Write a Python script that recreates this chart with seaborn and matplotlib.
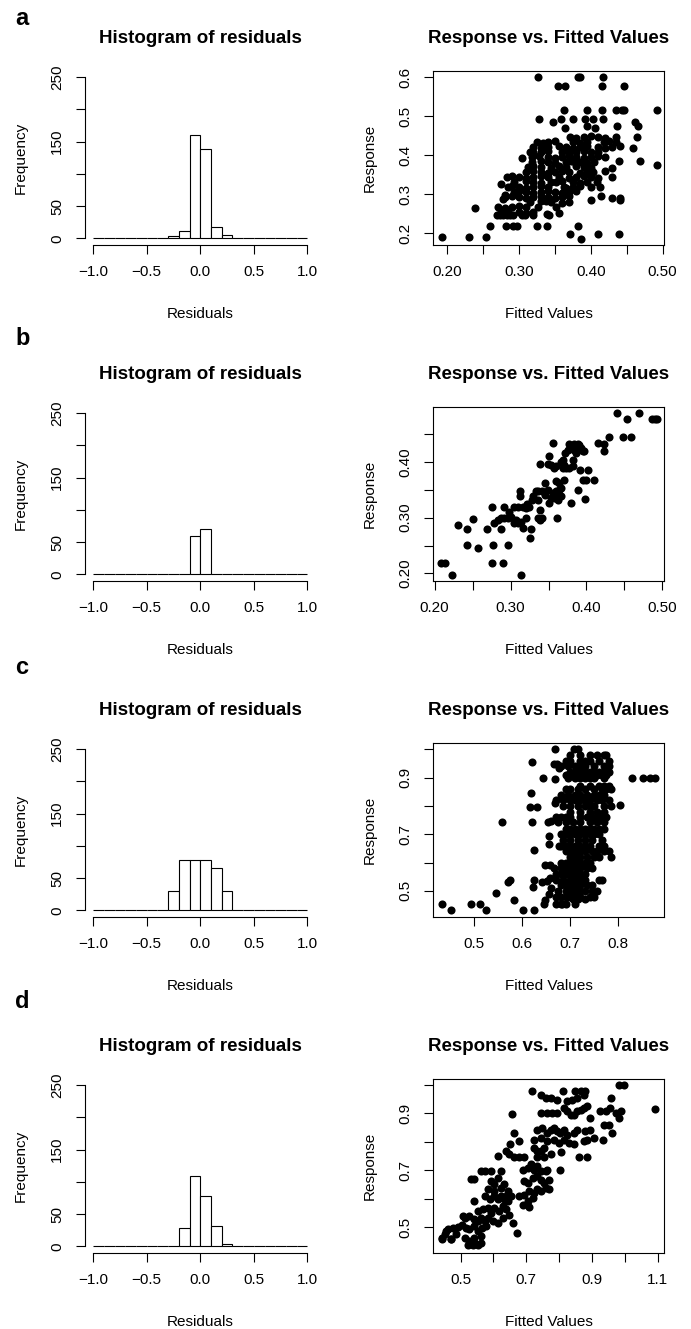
import numpy as np
import matplotlib
matplotlib.use("Agg")
import matplotlib.pyplot as plt
import seaborn as sns

sns.set_style("white")
plt.rcParams['font.family'] = ['Liberation Sans', 'DejaVu Sans']
plt.rcParams['text.color'] = 'black'
plt.rcParams['axes.labelcolor'] = 'black'

# ---------------- data ----------------
panel_letters = ['a', 'b', 'c', 'd']

hist_edges = [-1.0, -0.9, -0.8, -0.7, -0.6, -0.5, -0.4, -0.3, -0.2, -0.1, 0.0,
              0.1, 0.2, 0.3, 0.4, 0.5, 0.6, 0.7, 0.8, 0.9, 1.0]
hist_centers = [-0.95, -0.85, -0.75, -0.65, -0.55, -0.45, -0.35, -0.25, -0.15, -0.05,
                0.05, 0.15, 0.25, 0.35, 0.45, 0.55, 0.65, 0.75, 0.85, 0.95]
counts_a = [0, 0, 0, 0, 0, 0, 0, 3, 12, 160, 138, 17, 5, 0, 0, 0, 0, 0, 0, 0]
counts_b = [0, 0, 0, 0, 0, 0, 0, 0, 1, 60, 71, 0, 0, 0, 0, 0, 0, 0, 0, 0]
counts_c = [0, 0, 0, 0, 0, 0, 0, 30, 78, 78, 78, 66, 30, 1, 0, 0, 0, 0, 0, 0]
counts_d = [0, 0, 0, 0, 0, 0, 0, 0, 29, 109, 78, 31, 3, 0, 0, 0, 0, 0, 0, 0]

# (fitted, response) points
pts_a = np.array([
    (0.1925, 0.191), (0.2303, 0.191), (0.2545, 0.191), (0.2382, 0.2635), (0.2601, 0.219),
    (0.2811, 0.219), (0.2918, 0.219), (0.2974, 0.219), (0.3244, 0.219), (0.3384, 0.219),
    (0.3267, 0.600), (0.3281, 0.494), (0.3817, 0.600), (0.3850, 0.600), (0.4167, 0.600),
    (0.3547, 0.578), (0.3640, 0.578), (0.4153, 0.578), (0.4460, 0.578),
    (0.3622, 0.516), (0.3943, 0.516), (0.4153, 0.516), (0.4353, 0.516), (0.4437, 0.516),
    (0.4465, 0.516), (0.4922, 0.516),
    (0.3584, 0.494), (0.3468, 0.485), (0.3757, 0.494), (0.3920, 0.494), (0.4036, 0.494),
    (0.4176, 0.494), (0.3640, 0.469), (0.3943, 0.476), (0.4060, 0.469), (0.4362, 0.476),
    (0.4619, 0.485), (0.4651, 0.476), (0.4642, 0.447), (0.4586, 0.418), (0.4689, 0.385),
    (0.4922, 0.374), (0.4395, 0.385), (0.3034, 0.393), (0.2741, 0.327), (0.2778, 0.288),
    (0.2801, 0.297),
    (0.2699, 0.247), (0.2736, 0.247), (0.2778, 0.247), (0.2825, 0.247), (0.2872, 0.247),
    (0.2918, 0.247), (0.3034, 0.247), (0.3081, 0.247), (0.3197, 0.247), (0.3384, 0.250),
    (0.3421, 0.246), (0.3561, 0.251),
    (0.3710, 0.198), (0.3822, 0.219), (0.3864, 0.185), (0.4097, 0.198), (0.4386, 0.198),
    (0.3999, 0.284), (0.4130, 0.318), (0.4144, 0.294), (0.4293, 0.291), (0.4400, 0.291),
    (0.4400, 0.286), (0.4293, 0.344), (0.4293, 0.366),
    (0.371, 0.447), (0.380, 0.445), (0.390, 0.447), (0.400, 0.449), (0.410, 0.447), (0.420, 0.445), (0.435, 0.447),
    (0.325, 0.434), (0.333, 0.432), (0.340, 0.434), (0.350, 0.436), (0.375, 0.434), (0.385, 0.432),
    (0.395, 0.434), (0.418, 0.434), (0.425, 0.436), (0.435, 0.434),
    (0.320, 0.421), (0.330, 0.419), (0.340, 0.421), (0.355, 0.423), (0.365, 0.421), (0.375, 0.419),
    (0.385, 0.421), (0.395, 0.423), (0.410, 0.421), (0.420, 0.419), (0.430, 0.421), (0.440, 0.423),
    (0.315, 0.409), (0.320, 0.407), (0.330, 0.409), (0.340, 0.411), (0.360, 0.409), (0.370, 0.407),
    (0.380, 0.409), (0.390, 0.411), (0.400, 0.409), (0.410, 0.407),
    (0.318, 0.396), (0.328, 0.398), (0.340, 0.396), (0.350, 0.394), (0.360, 0.396), (0.370, 0.398),
    (0.380, 0.396), (0.390, 0.394), (0.400, 0.396), (0.410, 0.398), (0.420, 0.396),
    (0.318, 0.383), (0.330, 0.385), (0.340, 0.383), (0.350, 0.381), (0.365, 0.383), (0.375, 0.385),
    (0.385, 0.383), (0.395, 0.381), (0.405, 0.383),
    (0.313, 0.370), (0.320, 0.372), (0.330, 0.370), (0.345, 0.368), (0.365, 0.370), (0.380, 0.372),
    (0.390, 0.370), (0.400, 0.368),
    (0.310, 0.357), (0.320, 0.359), (0.330, 0.357), (0.340, 0.355), (0.350, 0.357), (0.360, 0.359),
    (0.370, 0.357), (0.385, 0.355), (0.395, 0.357), (0.420, 0.359),
    (0.283, 0.344), (0.290, 0.346), (0.300, 0.344), (0.310, 0.342), (0.320, 0.344), (0.330, 0.346),
    (0.340, 0.344), (0.370, 0.342), (0.380, 0.344), (0.390, 0.346), (0.400, 0.344), (0.410, 0.342),
    (0.293, 0.331), (0.310, 0.333), (0.320, 0.331), (0.330, 0.329), (0.345, 0.331), (0.360, 0.333),
    (0.375, 0.331), (0.385, 0.329), (0.395, 0.331),
    (0.285, 0.318), (0.290, 0.320), (0.300, 0.318), (0.310, 0.316), (0.320, 0.318), (0.330, 0.320),
    (0.340, 0.318), (0.365, 0.316), (0.375, 0.318), (0.385, 0.320), (0.400, 0.318),
    (0.293, 0.305), (0.300, 0.307), (0.310, 0.305), (0.320, 0.303), (0.330, 0.305), (0.340, 0.307),
    (0.350, 0.305), (0.360, 0.303), (0.370, 0.305), (0.380, 0.307),
    (0.280, 0.292), (0.290, 0.294), (0.300, 0.292), (0.310, 0.290), (0.320, 0.292), (0.330, 0.294),
    (0.340, 0.292), (0.350, 0.290), (0.360, 0.292), (0.370, 0.294),
    (0.315, 0.280), (0.330, 0.282), (0.345, 0.280), (0.360, 0.278), (0.370, 0.280),
    (0.270, 0.267), (0.280, 0.265), (0.290, 0.267), (0.300, 0.269), (0.310, 0.267),
    (0.275, 0.254), (0.285, 0.256), (0.300, 0.254), (0.310, 0.252), (0.320, 0.254),
    (0.355, 0.345), (0.362, 0.318), (0.352, 0.330), (0.356, 0.371), (0.372, 0.384),
    (0.403, 0.357), (0.408, 0.332), (0.338, 0.282), (0.352, 0.268), (0.326, 0.266),
])

pts_b = np.array([
    (0.2088, 0.218), (0.2140, 0.218), (0.2230, 0.198), (0.2315, 0.287), (0.2425, 0.280),
    (0.2500, 0.297), (0.2425, 0.251), (0.2570, 0.246), (0.2687, 0.280), (0.2753, 0.320),
    (0.2766, 0.251), (0.2753, 0.218), (0.2906, 0.218), (0.2970, 0.251), (0.3138, 0.198),
    (0.3257, 0.263), (0.2788, 0.290), (0.2830, 0.296), (0.2876, 0.299), (0.2920, 0.299),
    (0.2963, 0.299), (0.3007, 0.302), (0.3073, 0.296), (0.3138, 0.293), (0.3204, 0.299),
    (0.2876, 0.280), (0.2910, 0.320), (0.2985, 0.311), (0.3050, 0.320), (0.3095, 0.320),
    (0.3160, 0.320), (0.3204, 0.317), (0.3248, 0.320), (0.3050, 0.290), (0.3095, 0.290),
    (0.3160, 0.281), (0.3270, 0.279), (0.3125, 0.338), (0.3130, 0.347), (0.3290, 0.338),
    (0.3280, 0.332), (0.3357, 0.299), (0.3390, 0.296), (0.3420, 0.299), (0.3390, 0.313),
    (0.3357, 0.347), (0.3420, 0.347), (0.3490, 0.350), (0.3554, 0.344), (0.3600, 0.347),
    (0.3640, 0.350), (0.3664, 0.338), (0.3510, 0.326), (0.3576, 0.335), (0.3620, 0.332),
    (0.3611, 0.300), (0.3388, 0.396), (0.3490, 0.396), (0.3532, 0.395), (0.3576, 0.389),
    (0.3502, 0.410), (0.3563, 0.434), (0.3598, 0.365), (0.3642, 0.362), (0.3664, 0.353),
    (0.3708, 0.368), (0.3664, 0.400), (0.3686, 0.404), (0.3708, 0.395), (0.3730, 0.389),
    (0.3773, 0.389), (0.3817, 0.392), (0.3716, 0.416), (0.3751, 0.422), (0.3795, 0.425),
    (0.3839, 0.422), (0.3860, 0.416), (0.3883, 0.422), (0.3905, 0.431), (0.3926, 0.425),
    (0.3948, 0.419), (0.3970, 0.419), (0.3773, 0.432), (0.3839, 0.432), (0.3891, 0.432),
    (0.3795, 0.326), (0.3883, 0.350), (0.3918, 0.386), (0.4014, 0.386), (0.3948, 0.368),
    (0.3992, 0.368), (0.4102, 0.368), (0.3979, 0.333), (0.4145, 0.434), (0.4233, 0.432),
    (0.4233, 0.419), (0.4290, 0.444), (0.4400, 0.487), (0.4531, 0.477), (0.4478, 0.444),
    (0.4592, 0.444), (0.4693, 0.487), (0.4868, 0.477), (0.4903, 0.477), (0.4933, 0.477),
    (0.3530, 0.335), (0.3640, 0.338), (0.3220, 0.325), (0.3357, 0.331), (0.3450, 0.340),
    (0.3330, 0.347), (0.3690, 0.389), (0.3600, 0.392), (0.3820, 0.404), (0.3460, 0.362),
])

pts_c = np.array([
    (0.432, 0.453), (0.452, 0.432), (0.493, 0.453), (0.512, 0.453), (0.524, 0.432),
    (0.545, 0.491), (0.571, 0.533), (0.575, 0.540), (0.583, 0.467), (0.557, 0.745),
    (0.601, 0.432), (0.624, 0.432), (0.622, 0.514), (0.624, 0.540), (0.625, 0.644),
    (0.621, 0.745), (0.616, 0.796), (0.631, 0.796), (0.645, 0.453), (0.648, 0.467),
    (0.655, 0.488), (0.659, 0.509), (0.641, 0.530), (0.652, 0.535), (0.657, 0.545),
    (0.648, 0.592), (0.657, 0.592), (0.655, 0.667), (0.655, 0.694), (0.653, 0.745),
    (0.669, 0.812), (0.829, 0.900), (0.852, 0.900), (0.866, 0.900), (0.876, 0.900),
    (0.804, 0.802), (0.621, 0.956), (0.643, 0.900), (0.619, 0.847), (0.669, 1.000),
    (0.707, 1.000), (0.715, 1.000), (0.666, 0.950), (0.672, 0.950), (0.676, 0.935),
    (0.669, 0.894), (0.659, 0.747), (0.676, 0.659), (0.683, 0.455),
    (0.700, 0.980), (0.720, 0.980), (0.740, 0.980), (0.755, 0.980), (0.770, 0.980), (0.775, 0.980),
    (0.690, 0.960), (0.700, 0.960), (0.720, 0.960), (0.730, 0.960), (0.740, 0.960), (0.760, 0.960), (0.780, 0.960),
    (0.680, 0.940), (0.695, 0.940), (0.710, 0.940), (0.720, 0.940), (0.730, 0.940), (0.750, 0.940),
    (0.770, 0.940), (0.780, 0.940),
    (0.700, 0.920), (0.710, 0.920), (0.720, 0.920), (0.730, 0.920), (0.740, 0.920), (0.750, 0.920),
    (0.760, 0.920), (0.770, 0.920), (0.780, 0.920),
    (0.690, 0.910), (0.700, 0.910), (0.705, 0.910), (0.715, 0.910), (0.725, 0.910), (0.735, 0.910),
    (0.745, 0.910), (0.755, 0.910), (0.765, 0.910), (0.775, 0.910),
    (0.695, 0.900), (0.710, 0.900), (0.720, 0.900), (0.730, 0.900), (0.740, 0.900), (0.750, 0.900), (0.770, 0.900),
    (0.720, 0.870), (0.740, 0.870), (0.760, 0.870), (0.770, 0.870), (0.780, 0.870),
    (0.690, 0.860), (0.700, 0.860), (0.715, 0.860), (0.730, 0.860), (0.750, 0.860), (0.765, 0.860),
    (0.775, 0.860), (0.785, 0.860),
    (0.680, 0.840), (0.695, 0.840), (0.710, 0.840), (0.720, 0.840), (0.735, 0.840), (0.750, 0.840),
    (0.760, 0.840), (0.770, 0.840),
    (0.670, 0.820), (0.685, 0.820), (0.700, 0.820), (0.710, 0.820), (0.720, 0.820), (0.730, 0.820),
    (0.740, 0.820), (0.755, 0.820), (0.765, 0.820), (0.780, 0.820),
    (0.685, 0.800), (0.700, 0.800), (0.715, 0.800), (0.730, 0.800), (0.740, 0.800), (0.750, 0.800),
    (0.770, 0.800), (0.785, 0.800),
    (0.700, 0.780), (0.720, 0.780), (0.740, 0.780), (0.755, 0.780), (0.770, 0.780),
    (0.670, 0.760), (0.680, 0.760), (0.690, 0.760), (0.700, 0.760), (0.720, 0.760), (0.735, 0.760),
    (0.745, 0.760), (0.760, 0.760), (0.775, 0.760),
    (0.675, 0.745), (0.690, 0.745), (0.705, 0.745), (0.720, 0.745), (0.740, 0.745), (0.755, 0.745), (0.770, 0.745),
    (0.690, 0.720), (0.700, 0.720), (0.710, 0.720), (0.720, 0.720), (0.730, 0.720), (0.740, 0.720),
    (0.750, 0.720), (0.760, 0.720), (0.770, 0.720),
    (0.680, 0.700), (0.690, 0.700), (0.700, 0.700), (0.710, 0.700), (0.720, 0.700), (0.730, 0.700),
    (0.740, 0.700), (0.750, 0.700), (0.760, 0.700),
    (0.685, 0.680), (0.700, 0.680), (0.715, 0.680), (0.730, 0.680), (0.745, 0.680), (0.765, 0.680),
    (0.680, 0.660), (0.690, 0.660), (0.700, 0.660), (0.710, 0.660), (0.720, 0.660), (0.730, 0.660),
    (0.740, 0.660), (0.760, 0.660), (0.770, 0.660),
    (0.690, 0.640), (0.700, 0.640), (0.710, 0.640), (0.720, 0.640), (0.730, 0.640), (0.745, 0.640),
    (0.755, 0.640), (0.770, 0.640), (0.780, 0.640),
    (0.700, 0.620), (0.710, 0.620), (0.720, 0.620), (0.735, 0.620), (0.750, 0.620), (0.760, 0.620), (0.785, 0.620),
    (0.680, 0.600), (0.690, 0.600), (0.700, 0.600), (0.710, 0.600), (0.720, 0.600), (0.730, 0.600), (0.740, 0.600),
    (0.665, 0.580), (0.680, 0.580), (0.690, 0.580), (0.700, 0.580), (0.710, 0.580), (0.720, 0.580),
    (0.735, 0.580), (0.745, 0.580),
    (0.670, 0.560), (0.680, 0.560), (0.690, 0.560), (0.700, 0.560), (0.710, 0.560), (0.720, 0.560), (0.730, 0.560),
    (0.670, 0.540), (0.685, 0.540), (0.700, 0.540), (0.710, 0.540), (0.720, 0.540), (0.730, 0.540),
    (0.760, 0.540), (0.765, 0.540),
    (0.680, 0.520), (0.690, 0.520), (0.700, 0.520), (0.710, 0.520), (0.720, 0.520), (0.735, 0.520), (0.745, 0.520),
    (0.675, 0.500), (0.690, 0.500), (0.700, 0.500), (0.710, 0.500), (0.720, 0.500), (0.730, 0.500),
    (0.745, 0.500), (0.755, 0.500),
    (0.670, 0.480), (0.680, 0.480), (0.690, 0.480), (0.700, 0.480), (0.710, 0.480), (0.720, 0.480),
    (0.740, 0.480), (0.750, 0.480),
    (0.705, 0.470), (0.715, 0.470), (0.730, 0.470),
    (0.670, 0.455), (0.680, 0.455), (0.690, 0.455), (0.710, 0.455),
])

pts_d = np.array([
    (0.717, 0.979), (0.811, 0.979), (0.848, 0.979), (0.865, 0.979), (0.880, 0.979),
    (0.981, 1.000), (0.996, 1.000), (1.092, 0.916), (0.655, 0.898), (0.663, 0.831),
    (0.651, 0.793), (0.678, 0.801), (0.613, 0.749), (0.638, 0.766), (0.648, 0.755),
    (0.532, 0.669), (0.542, 0.669), (0.563, 0.696), (0.573, 0.696), (0.593, 0.696),
    (0.623, 0.696), (0.663, 0.746), (0.678, 0.746), (0.694, 0.746), (0.734, 0.746),
    (0.754, 0.746), (0.860, 0.746), (0.885, 0.746), (0.807, 0.764), (0.804, 0.702),
    (0.673, 0.480), (0.542, 0.593), (0.709, 0.571),
    (0.746, 0.965), (0.759, 0.953), (0.774, 0.953), (0.794, 0.947),
    (0.744, 0.901), (0.764, 0.901), (0.779, 0.901), (0.794, 0.901),
    (0.815, 0.918), (0.825, 0.907), (0.835, 0.895), (0.845, 0.895), (0.855, 0.907),
    (0.865, 0.912), (0.875, 0.918), (0.885, 0.924),
    (0.825, 0.942), (0.840, 0.947), (0.855, 0.953), (0.875, 0.965), (0.895, 0.883),
    (0.925, 0.907), (0.941, 0.907), (0.956, 0.918), (0.958, 0.953), (0.974, 0.901),
    (0.981, 0.883), (0.988, 0.907), (0.935, 0.860), (0.951, 0.860), (0.933, 0.807), (0.961, 0.831),
    (0.734, 0.842), (0.749, 0.848), (0.764, 0.831), (0.774, 0.842), (0.784, 0.848),
    (0.794, 0.836), (0.804, 0.831), (0.815, 0.842), (0.825, 0.825), (0.845, 0.831),
    (0.855, 0.842), (0.880, 0.836), (0.895, 0.842),
    (0.724, 0.807), (0.744, 0.813), (0.764, 0.801), (0.784, 0.807), (0.799, 0.796),
    (0.815, 0.807), (0.830, 0.796), (0.845, 0.790), (0.875, 0.801), (0.885, 0.807), (0.905, 0.813),
    (0.744, 0.766), (0.754, 0.778), (0.774, 0.755), (0.734, 0.766), (0.724, 0.778),
    (0.689, 0.702), (0.704, 0.708), (0.714, 0.720), (0.724, 0.702), (0.734, 0.714),
    (0.744, 0.696), (0.759, 0.696), (0.764, 0.702),
    (0.694, 0.661), (0.704, 0.655), (0.719, 0.673), (0.734, 0.679), (0.744, 0.667),
    (0.754, 0.655), (0.769, 0.667),
    (0.678, 0.609), (0.694, 0.614), (0.709, 0.626), (0.724, 0.620), (0.734, 0.632),
    (0.744, 0.626), (0.759, 0.638), (0.769, 0.632),
    (0.689, 0.579), (0.704, 0.591), (0.719, 0.603), (0.653, 0.609), (0.643, 0.591), (0.638, 0.609),
    (0.603, 0.650), (0.613, 0.673), (0.623, 0.638), (0.633, 0.650), (0.593, 0.661),
    (0.583, 0.632), (0.603, 0.626),
    (0.573, 0.609), (0.588, 0.597), (0.603, 0.609), (0.613, 0.597), (0.623, 0.609),
    (0.633, 0.597), (0.643, 0.626),
    (0.552, 0.556), (0.568, 0.562), (0.583, 0.568), (0.593, 0.550), (0.603, 0.568),
    (0.618, 0.556), (0.628, 0.574), (0.638, 0.562), (0.648, 0.544),
    (0.512, 0.533), (0.527, 0.539), (0.542, 0.527), (0.552, 0.521), (0.563, 0.533),
    (0.573, 0.521), (0.583, 0.533), (0.598, 0.521), (0.613, 0.515), (0.628, 0.533),
    (0.462, 0.492), (0.477, 0.498), (0.492, 0.500), (0.504, 0.509), (0.517, 0.498),
    (0.527, 0.492), (0.542, 0.504), (0.552, 0.486), (0.565, 0.498), (0.578, 0.504),
    (0.442, 0.463), (0.452, 0.474), (0.472, 0.457), (0.487, 0.474), (0.512, 0.463),
    (0.527, 0.451), (0.542, 0.463), (0.563, 0.468),
    (0.532, 0.439), (0.547, 0.439), (0.563, 0.445),
    (0.442, 0.457), (0.457, 0.486), (0.472, 0.457), (0.507, 0.539), (0.522, 0.436),
    (0.537, 0.436), (0.552, 0.436), (0.658, 0.515),
])

# axis settings per panel
x_lims = [(0.180, 0.502), (0.198, 0.502), (0.414, 0.895), (0.416, 1.119)]
y_lims = [(0.170, 0.617), (0.187, 0.499), (0.409, 1.0235), (0.410, 1.021)]
x_ticks = [[0.20, 0.25, 0.30, 0.35, 0.40, 0.45, 0.50],
           [0.20, 0.25, 0.30, 0.35, 0.40, 0.45, 0.50],
           [0.5, 0.6, 0.7, 0.8],
           [0.5, 0.6, 0.7, 0.8, 0.9, 1.0, 1.1]]
x_labels = [['0.20', '', '0.30', '', '0.40', '', '0.50'],
            ['0.20', '', '0.30', '', '0.40', '', '0.50'],
            ['0.5', '0.6', '0.7', '0.8'],
            ['0.5', '', '0.7', '', '0.9', '', '1.1']]
y_ticks = [[0.2, 0.3, 0.4, 0.5, 0.6],
           [0.20, 0.25, 0.30, 0.35, 0.40, 0.45],
           [0.5, 0.6, 0.7, 0.8, 0.9, 1.0],
           [0.5, 0.6, 0.7, 0.8, 0.9, 1.0]]
y_labels = [['0.2', '0.3', '0.4', '0.5', '0.6'],
            ['0.20', '', '0.30', '', '0.40', ''],
            ['0.5', '', '0.7', '', '0.9', ''],
            ['0.5', '', '0.7', '', '0.9', '']]

all_counts = [counts_a, counts_b, counts_c, counts_d]
all_pts = [pts_a, pts_b, pts_c, pts_d]
letter_base = [25, 345, 674, 1008]

# ---------------- figure ----------------
W, H = 691, 1329
fig = plt.figure(figsize=(W / 100, H / 100), dpi=100)


def add_box(left, top, w, h):
    return fig.add_axes([left / W, 1 - (top + h) / H, w / W, h / H])


LW = 0.8
FS = 11
for r in range(4):
    top = 70.7 + 336 * r
    h = 174

    # ---- histogram ----
    ax = add_box(84.5, top, 231.5, h)
    sns.histplot(x=hist_centers, weights=all_counts[r], bins=hist_edges, ax=ax,
                 color='white', edgecolor='black', linewidth=LW, alpha=1)
    ax.set_xlim(-1.08, 1.08)
    ax.set_ylim(-10, 260)
    for s in ['top', 'right']:
        ax.spines[s].set_visible(False)
    ax.spines['left'].set_bounds(0, 250)
    ax.spines['bottom'].set_bounds(-1, 1)
    ax.set_xticks([-1, -0.5, 0, 0.5, 1])
    ax.set_xticklabels(['\u22121.0', '\u22120.5', '0.0', '0.5', '1.0'])
    ax.set_yticks([0, 50, 100, 150, 200, 250])
    ax.set_yticklabels(['0', '50', '', '150', '', '250'])
    ax.set_title('Histogram of residuals', fontweight='bold', fontsize=13.5, pad=20)
    ax.set_xlabel('Residuals', fontsize=FS, labelpad=20)
    ax.set_ylabel('Frequency', fontsize=FS, labelpad=16)

    # ---- scatter ----
    ax2 = add_box(433, top, 231, h)
    pts = all_pts[r]
    sns.scatterplot(x=pts[:, 0], y=pts[:, 1], ax=ax2, color='black', s=34,
                    linewidth=0, alpha=1)
    ax2.set_xlim(*x_lims[r])
    ax2.set_ylim(*y_lims[r])
    ax2.set_xticks(x_ticks[r])
    ax2.set_xticklabels(x_labels[r])
    ax2.set_yticks(y_ticks[r])
    ax2.set_yticklabels(y_labels[r])
    ax2.set_title('Response vs. Fitted Values', fontweight='bold', fontsize=13.5, pad=20)
    ax2.set_xlabel('Fitted Values', fontsize=FS, labelpad=20)
    ax2.set_ylabel('Response', fontsize=FS, labelpad=16)

    for a in (ax, ax2):
        for s in a.spines.values():
            s.set_linewidth(LW)
            s.set_color('black')
        a.tick_params(axis='both', direction='out', length=6.5, width=LW,
                      labelsize=FS, pad=8, colors='black',
                      bottom=True, left=True)
        plt.setp(a.get_yticklabels(), rotation=90, va='center')

    fig.text(15 / W, 1 - letter_base[r] / H, panel_letters[r], fontsize=17,
             fontweight='bold', va='baseline', ha='left')

fig.savefig('out.png', dpi=100)
